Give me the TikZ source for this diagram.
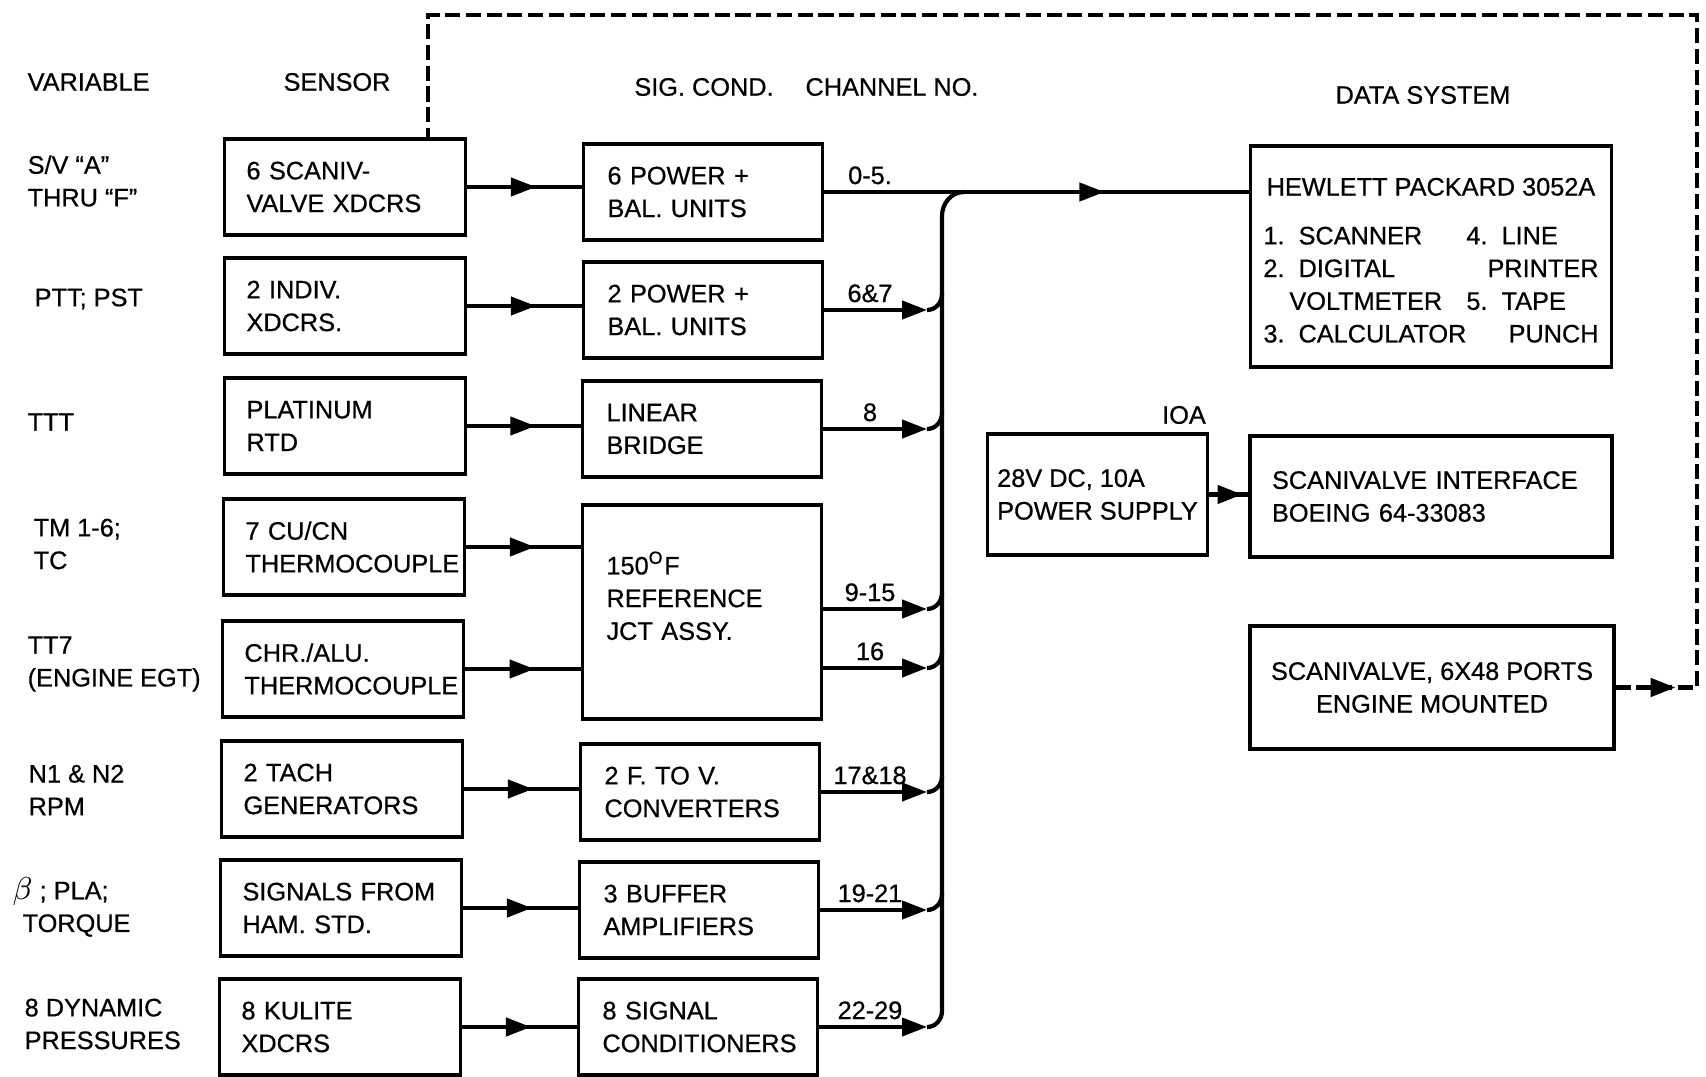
\documentclass[tikz,border=0pt]{standalone}
\usepackage{fontspec}
\setmainfont{Liberation Sans}[FakeBold=0.6]
\hyphenpenalty=10000
\exhyphenpenalty=10000
\usetikzlibrary{arrows.meta,decorations.markings}

\begin{document}
\begin{tikzpicture}[x=1cm, y=-1cm,
        font=\fontsize{7.2}{9.3}\selectfont,
        box/.style={rectangle, draw, line width=0.9pt, inner xsep=0.22cm, inner ysep=0pt, align=left},
        sens/.style={box, text width=1.97cm, minimum height=0.96cm},
        cond/.style={box, inner xsep=0.24cm, text width=1.91cm, minimum height=0.96cm},
        vlabel/.style={anchor=west, align=left, inner sep=0pt},
        wire/.style={line width=1.2pt},
        tip/.style={wire, -{Triangle[length=0.25cm, width=0.18cm]}},
        midarrow/.style={wire, postaction={decorate}, decoration={markings,
            mark=at position #1 with {\arrow{Triangle[length=0.25cm, width=0.18cm]}}}},
        midarrow/.default=0.6,
        chan/.style={above, inner sep=2pt},
        dashline/.style={line width=1.3pt, dash pattern=on 4.3pt off 1.6pt},
    ]
    \useasboundingbox (0,0) rectangle (17.06,10.77);

    % Column headings
    \node[anchor=west, inner sep=0pt] (hvar) at (0.27,0.82) {VARIABLE};
    \node (hsen) at (3.37,0.82) {SENSOR};
    \node (hsig) at (7.04,0.87) {SIG. COND.};
    \node (hchan) at (8.92,0.87) {CHANNEL NO.};
    \node (hdata) at (14.23,0.95) {DATA SYSTEM};

    % Measured variables
    \node[vlabel] (var1) at (0.27,1.81) {S/V “A”\\THRU “F”};
    \node[vlabel] (var2) at (0.34,2.99) {PTT; PST};
    \node[vlabel] (var3) at (0.27,4.22) {TTT};
    \node[vlabel] (var4) at (0.33,5.44) {TM 1-6;\\TC};
    \node[vlabel] (var5) at (0.27,6.64) {TT7\\(ENGINE EGT)};
    \node[vlabel] (var6) at (0.28,7.90) {N1 \& N2\\RPM};
    \node[vlabel] (var7) at (0.12,9.07) {{\fontsize{9.5}{9.5}\selectfont$\beta$} ; PLA;\\\hspace*{0.1cm}TORQUE};
    \node[vlabel] (var8) at (0.24,10.24) {8 DYNAMIC\\PRESSURES};

    % Sensors
    \foreach \x/\y/\txt [count=\i] in {
        3.45/1.87/{6 SCANIV-\\VALVE~XDCRS},
        3.45/3.06/{2 INDIV.\\XDCRS.},
        3.45/4.26/{PLATINUM\\RTD},
        3.44/5.47/{7 CU/CN\\THERMOCOUPLE},
        3.43/6.69/{CHR./ALU.\\THERMOCOUPLE},
        3.42/7.89/{2 TACH\\GENERATORS},
        3.41/9.08/{SIGNALS~FROM\\HAM. STD.},
        3.40/10.27/{8 KULITE\\XDCRS}
    } {
        \node[sens] (sen\i) at (\x,\y) {\txt};
    }

    % Signal conditioning
    \node[cond] (sig1) at (7.03,1.92) {6 POWER +\\BAL. UNITS};
    \node[cond] (sig2) at (7.03,3.10) {2 POWER +\\BAL. UNITS};
    \node[cond] (sig3) at (7.02,4.29) {LINEAR\\BRIDGE};
    \node[cond, minimum height=2.14cm] (sig4) at (7.02,6.12) {150\textsuperscript{O}F\\REFERENCE\\JCT ASSY.\\ \mbox{}};
    \node[cond] (sig5) at (7.00,7.92) {2 F. TO V.\\CONVERTERS};
    \node[cond] (sig6) at (6.99,9.10) {3 BUFFER\\AMPLIFIERS};
    \node[cond] (sig7) at (6.98,10.27) {8 SIGNAL\\CONDITIONERS};

    % Sensor to signal conditioning
    \foreach \s/\c in {1/1, 2/2, 3/3, 4/4, 5/4, 6/5, 7/6, 8/7} {
        \draw[midarrow=0.6] (sen\s.east) -- (sen\s.east -| sig\c.west);
    }

    % Channels into the bus
    \foreach \src/\y/\lab [count=\i] in {
        sig2/3.10/6\&7, sig3/4.29/8, sig4/6.09/9-15, sig4/6.68/16,
        sig5/7.92/17\&18, sig6/9.10/19-21, sig7/10.27/22-29
    } {
        \coordinate (ctip\i) at (9.27,\y);
        \coordinate (cbus\i) at (9.42,\y-0.16);
        \draw[tip] (\src.east |- ctip\i) -- (ctip\i);
        \draw[wire] (ctip\i) to[out=0, in=-90] (cbus\i);
        \node[chan] (clab\i) at (8.70,\y) {\lab};
    }

    % Data system
    \node[box, inner xsep=0.1cm, minimum width=3.61cm, minimum height=2.21cm] (hp) at (14.31,2.565) {%
        \begin{tabular}{@{}p{2.03cm}@{}p{1.30cm}@{}}
            \multicolumn{2}{@{}c@{}}{\rule{0pt}{9.9pt}HEWLETT PACKARD 3052A}\\[4.6pt]
            1.~~SCANNER & 4.~~LINE\\
            2.~~DIGITAL & \multicolumn{1}{r@{}}{PRINTER}\\
            \hspace*{0.26cm}VOLTMETER & 5.~~TAPE\\
            \mbox{3.~~CALCULATOR} & \multicolumn{1}{r@{}}{PUNCH}
        \end{tabular}};
    \node[box, inner xsep=0.1cm, minimum width=2.17cm, minimum height=1.21cm] (psu) at (10.975,4.945) {28V DC, 10A\\POWER SUPPLY};
    \node (ioa) at (11.84,4.15) {IOA};
    \node[box, text width=3.18cm, minimum height=1.21cm] (sif) at (14.31,4.965) {SCANIVALVE~INTERFACE\\BOEING 64-33083};
    \node[box, align=center, inner xsep=0.1cm, minimum width=3.64cm, minimum height=1.23cm] (scv) at (14.32,6.875) {SCANIVALVE, 6X48 PORTS\\ENGINE MOUNTED};

    % Bus and main line
    \coordinate (bustop) at (9.42,2.16);
    \coordinate (busend) at (9.64,1.92);
    \draw[wire] (cbus7) -- (bustop) to[out=90, in=180] (busend);
    \draw[midarrow=0.66] (sig1.east) -- (sig1.east -| hp.west);
    \node[chan] (clab0) at (8.70,1.92) {0-5.};
    \draw[midarrow=0.85] (psu.east) -- (psu.east -| sif.west);

    % Dashed pressure line
    \coordinate (dtr) at (16.97,0.15);
    \coordinate (dtl) at (4.28,0.15);
    \draw[midarrow=0.6cm, dashline] (scv.east) -- (scv.east -| dtr) -- (dtr) -- (dtl) -- (dtl |- sen1.north);

\end{tikzpicture}
\end{document}
